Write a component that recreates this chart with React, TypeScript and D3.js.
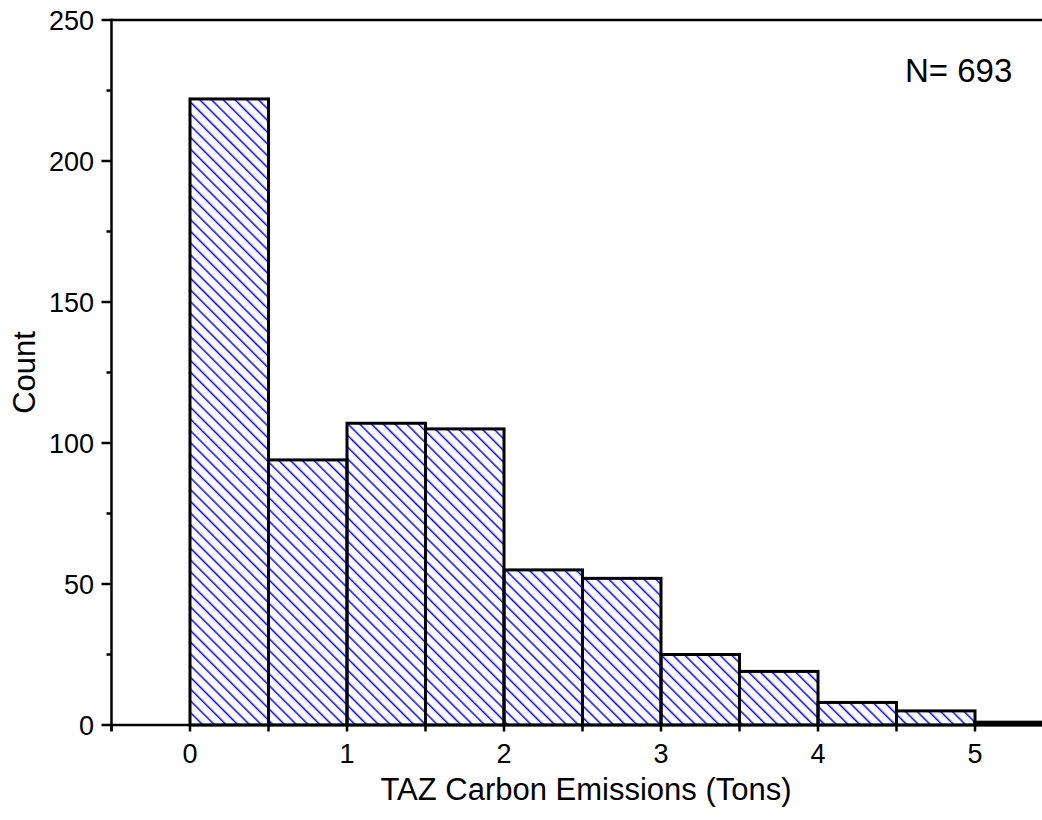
import React from "react";
import * as d3 from "d3";

const binStarts = [0, 0.5, 1, 1.5, 2, 2.5, 3, 3.5, 4, 4.5, 5];
const binWidth = 0.5;
const counts = [222, 94, 107, 105, 55, 52, 25, 19, 8, 5, 1];
const xTickLabels = [0, 1, 2, 3, 4, 5];
const yTickLabels = [0, 50, 100, 150, 200, 250];
const xTitle = "TAZ Carbon Emissions (Tons)";
const yTitle = "Count";
const note = "N= 693";

const W = 1042;
const H = 820;
const FONT = "'Liberation Sans', Arial, sans-serif";

export default function App() {
  const x = d3.scaleLinear().domain([-0.5, 5.5]).range([111.5, 1053.5]);
  const y = d3.scaleLinear().domain([0, 250]).range([725, 20]);
  const xMinor = d3.range(-0.5, 5.51, 0.5);
  const yMinor = d3.range(0, 251, 25);

  return (
    <svg
      width={W}
      height={H}
      style={{ position: "absolute", left: 0, top: 0, background: "#fff" }}
      fontFamily={FONT}
    >
      <defs>
        <pattern
          id="hatch"
          patternUnits="userSpaceOnUse"
          width={8.3}
          height={8.3}
          patternTransform="rotate(45)"
        >
          <line x1={0} y1={4} x2={8.3} y2={4} stroke="#0000ff" strokeWidth={1.5} />
        </pattern>
      </defs>
      <rect x={0} y={0} width={W} height={H} fill="#fff" />

      {/* bars */}
      {counts.map((c, i) => (
        <rect
          key={i}
          x={x(binStarts[i])}
          y={y(c)}
          width={x(binStarts[i] + binWidth) - x(binStarts[i])}
          height={y(0) - y(c)}
          fill="url(#hatch)"
          stroke="#000"
          strokeWidth={3}
        />
      ))}

      {/* axes frame */}
      <line x1={x(-0.5)} y1={y(250)} x2={W + 20} y2={y(250)} stroke="#000" strokeWidth={2.5} />
      <line x1={x(-0.5)} y1={y(250) - 1.2} x2={x(-0.5)} y2={y(0) + 6} stroke="#000" strokeWidth={2.5} />
      <line x1={x(-0.5) - 1.2} y1={y(0)} x2={W + 20} y2={y(0)} stroke="#000" strokeWidth={2.5} />

      {/* x ticks */}
      {xMinor.map((v, i) => (
        <line key={"xt" + i} x1={x(v)} x2={x(v)} y1={y(0)} y2={y(0) + 6.5} stroke="#000" strokeWidth={2.5} />
      ))}
      {xTickLabels.map((v) => (
        <text key={"xl" + v} x={x(v)} y={763} textAnchor="middle" fontSize={27} fill="#000">
          {v}
        </text>
      ))}

      {/* y ticks */}
      {yMinor.map((v, i) => (
        <line
          key={"yt" + i}
          x1={x(-0.5)}
          x2={x(-0.5) - (v % 50 === 0 ? 10 : 5)}
          y1={y(v)}
          y2={y(v)}
          stroke="#000"
          strokeWidth={2.5}
        />
      ))}
      {yTickLabels.map((v) => (
        <text key={"yl" + v} x={94} y={y(v) + 9.5} textAnchor="end" fontSize={27} fill="#000">
          {v}
        </text>
      ))}

      {/* titles */}
      <text x={586} y={800} textAnchor="middle" fontSize={31} fill="#000">
        {xTitle}
      </text>
      <text
        transform={`translate(35, 372.5) rotate(-90)`}
        textAnchor="middle"
        fontSize={31}
        fill="#000"
      >
        {yTitle}
      </text>
      <text x={905} y={82} fontSize={33} fill="#000">
        {note}
      </text>
    </svg>
  );
}
